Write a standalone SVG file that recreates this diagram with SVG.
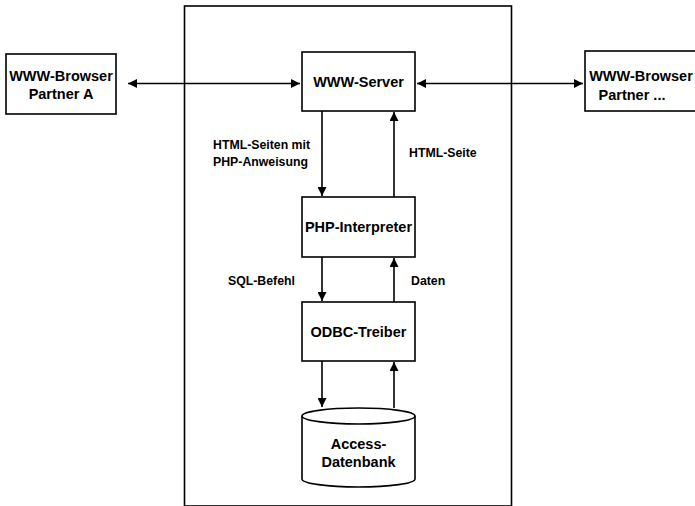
<svg xmlns="http://www.w3.org/2000/svg" width="695" height="506" viewBox="0 0 695 506">
<style>
.box{fill:#fff;stroke:#000;stroke-width:1.6}
.t{font-family:"Liberation Sans",Arial,sans-serif;font-weight:bold;font-size:14.5px;fill:#000;text-anchor:middle}
.l{font-family:"Liberation Sans",Arial,sans-serif;font-weight:bold;font-size:12.3px;fill:#000}
.c{fill:none;stroke:#000;stroke-width:1.6}
</style>
<defs>
<marker id="ah" viewBox="0 0 10 10" refX="10" refY="5" markerWidth="10" markerHeight="9" markerUnits="userSpaceOnUse" orient="auto-start-reverse">
<path d="M0,0 L10,5 L0,10 z" fill="#000"/>
</marker>
</defs>
<rect id="frame" x="184.5" y="6" width="327" height="500" fill="none" stroke="#000" stroke-width="1.6"/>
<g id="connectors">
<line class="c" x1="128" y1="83.5" x2="300" y2="83.5" marker-start="url(#ah)" marker-end="url(#ah)"/>
<line class="c" x1="417" y1="83.5" x2="583" y2="83.5" marker-start="url(#ah)" marker-end="url(#ah)"/>
<line class="c" x1="322" y1="111" x2="322" y2="196" marker-end="url(#ah)"/>
<line class="c" x1="394" y1="197" x2="394" y2="112" marker-end="url(#ah)"/>
<line class="c" x1="322" y1="257" x2="322" y2="301" marker-end="url(#ah)"/>
<line class="c" x1="394" y1="302" x2="394" y2="258" marker-end="url(#ah)"/>
<line class="c" x1="322" y1="361" x2="322" y2="407" marker-end="url(#ah)"/>
<line class="c" x1="394" y1="408" x2="394" y2="362" marker-end="url(#ah)"/>
<text class="l" x="213" y="149">HTML-Seiten mit</text>
<text class="l" x="213" y="166">PHP-Anweisung</text>
<text class="l" x="409" y="157">HTML-Seite</text>
<text class="l" x="228" y="285">SQL-Befehl</text>
<text class="l" x="411" y="285">Daten</text>
</g>
<g id="browserA">
<rect class="box" x="6" y="54" width="110" height="60"/>
<text class="t" x="61" y="81">WWW-Browser</text>
<text class="t" x="61" y="99">Partner A</text>
</g>
<g id="server">
<rect class="box" x="302" y="52" width="113" height="59"/>
<text class="t" x="358.5" y="87">WWW-Server</text>
</g>
<g id="browserN">
<rect class="box" x="585" y="51" width="112" height="60"/>
<text class="t" x="641" y="81">WWW-Browser</text>
<text class="t" x="632" y="100">Partner ...</text>
</g>
<g id="php">
<rect class="box" x="302" y="197" width="113" height="60"/>
<text class="t" x="358.5" y="232">PHP-Interpreter</text>
</g>
<g id="odbc">
<rect class="box" x="302" y="302" width="113" height="59"/>
<text class="t" x="358.5" y="337">ODBC-Treiber</text>
</g>
<g id="db">
<path class="box" d="M302,416 L302,479 A56.5,8 0 0 0 415,479 L415,416 A56.5,8 0 0 0 302,416 Z"/>
<path class="c" d="M302,416 A56.5,8 0 0 0 415,416"/>
<text class="t" x="358.5" y="449">Access-</text>
<text class="t" x="358.5" y="467">Datenbank</text>
</g>
</svg>
